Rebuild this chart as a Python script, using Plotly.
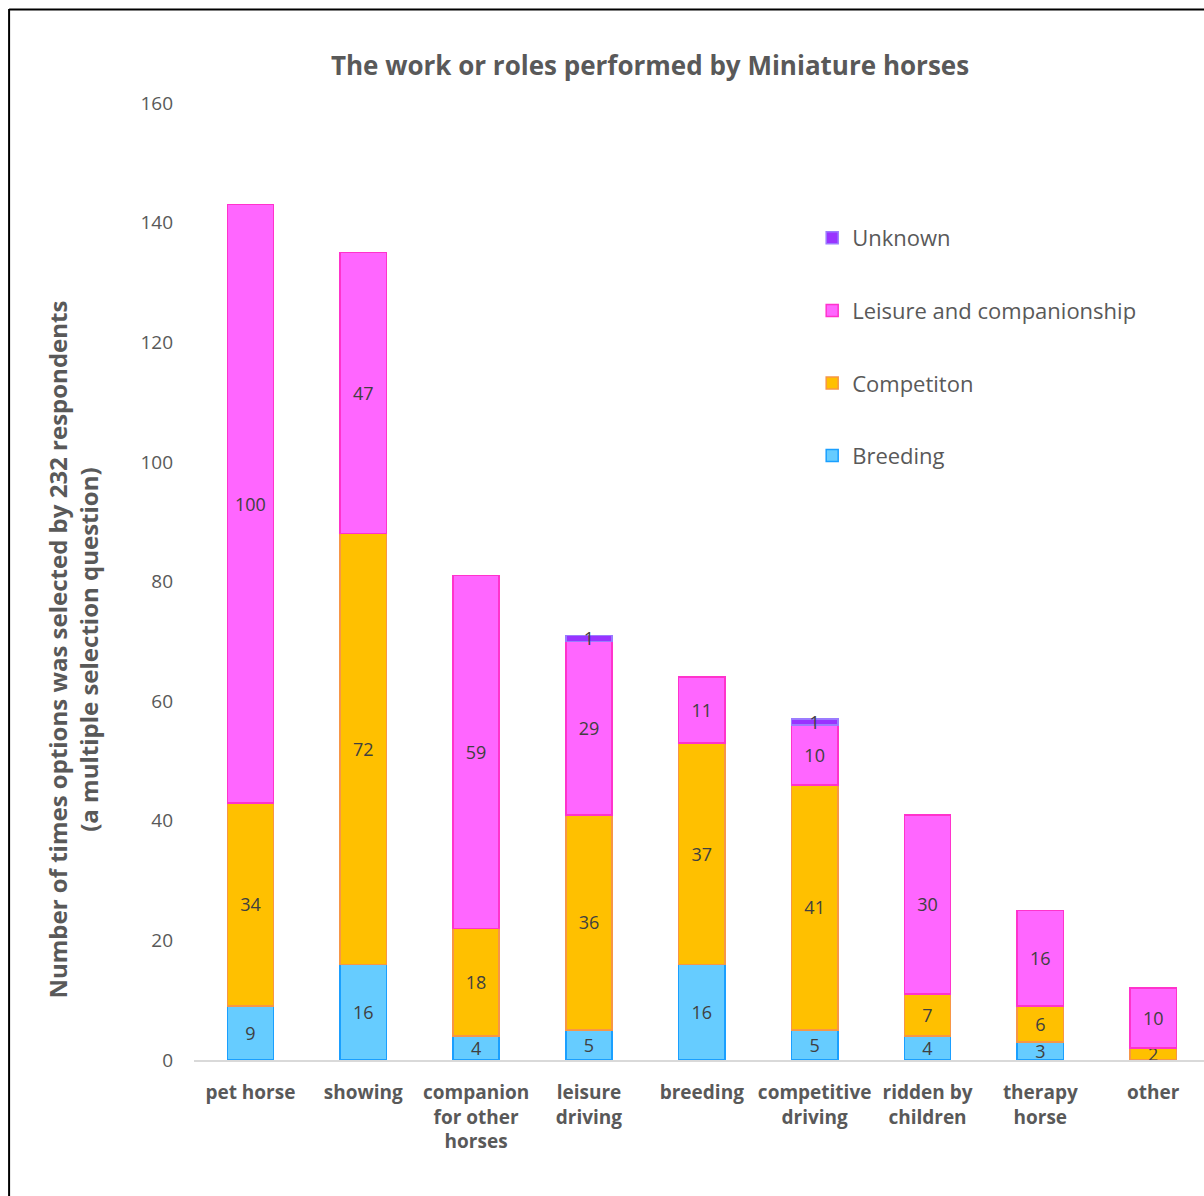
import plotly.graph_objects as go

# Survey results: roles of Miniature horses, split by owner purpose
categories = [
    "pet horse", "showing", "companion<br>for other<br>horses", "leisure<br>driving",
    "breeding", "competitive<br>driving", "ridden by<br>children", "therapy<br>horse", "other",
]
breeding = [9, 16, 4, 5, 16, 5, 4, 3, 0]
competition = [34, 72, 18, 36, 37, 41, 7, 6, 2]
leisure = [100, 47, 59, 29, 11, 10, 30, 16, 10]
unknown = [0, 0, 0, 1, 0, 1, 0, 0, 0]

y_ticks = [0, 20, 40, 60, 80, 100, 120, 140, 160]

# (name, values, fill, outline, legend position)
series = [
    ("Breeding", breeding, "#66CCFF", "#1A9FFF", 4),
    ("Competiton", competition, "#FFC000", "#F79646", 3),
    ("Leisure and companionship", leisure, "#FF66FF", "#FF33CC", 2),
    ("Unknown", unknown, "#9933FF", "#9B7BFF", 1),
]

FONT = "Open Sans"
GREY = "#595959"

fig = go.Figure()
for name, vals, fill, edge, rank in series:
    fig.add_trace(go.Bar(
        x=list(range(len(categories))),
        y=[v if v else None for v in vals],
        name=name,
        legendgroup=name,
        legendrank=rank,
        marker=dict(color=fill, line=dict(color=edge, width=1.5)),
        width=0.41,
        text=[str(v) if v else "" for v in vals],
        textposition="inside",
        insidetextanchor="middle",
        constraintext="none",
        textangle=0,
        textfont=dict(family=FONT, size=18, color="#404040"),
        hoverinfo="skip",
    ))

# plot area spans px 193.5..1204 horizontally and 103..1060 vertically
L, R, T, B = 193.5, 1204.0, 103.0, 1060.0
W, H = R - L, B - T

def px_x(px):
    return (px - L) / W

def px_y(py):
    return (B - py) / H

fig.update_layout(
    width=1204, height=1196,
    margin=dict(l=L, r=1204 - R, t=T, b=1196 - B, pad=0),
    barmode="stack",
    paper_bgcolor="white", plot_bgcolor="white",
    font=dict(family=FONT, color=GREY),
    title=dict(
        text="<b>The work or roles performed by Miniature horses</b>",
        x=650 / 1204, xanchor="center", y=1 - 66 / 1196, yanchor="middle",
        font=dict(family=FONT, size=26, color=GREY),
    ),
    xaxis=dict(
        range=[-0.5, -0.5 + W / 112.9],
        tickmode="array",
        tickvals=list(range(len(categories))),
        ticktext=[f"<b>{c}</b>" for c in categories],
        tickfont=dict(family=FONT, size=19, color=GREY),
        showline=True, linecolor="#D9D9D9", linewidth=2,
        showgrid=False, zeroline=False, ticks="", ticklabelstandoff=14,
    ),
    yaxis=dict(
        range=[0, 160],
        tickvals=y_ticks,
        tickfont=dict(family=FONT, size=19, color=GREY),
        showline=False, showgrid=False, zeroline=False, ticks="",
        ticklabelstandoff=20,
    ),
    legend=dict(
        x=px_x(812), xanchor="left", y=px_y(217), yanchor="top",
        traceorder="grouped", tracegroupgap=41,
        font=dict(family=FONT, size=22, color=GREY),
        bgcolor="rgba(0,0,0,0)",
    ),
    showlegend=True,
)

# axis title, two bold lines rotated
fig.add_annotation(
    xref="paper", yref="paper", x=px_x(72), y=px_y(650),
    text="<b>Number of times options was selected by 232 respondents</b><br><b>(a multiple selection question)</b>",
    textangle=-90, showarrow=False, xanchor="center", yanchor="middle",
    font=dict(family=FONT, size=24, color=GREY),
)

# outer frame (left and top edges)
fig.add_shape(type="line", xref="paper", yref="paper",
              x0=px_x(8.5), x1=px_x(8.5), y0=px_y(9), y1=px_y(1196),
              line=dict(color="black", width=2))
fig.add_shape(type="line", xref="paper", yref="paper",
              x0=px_x(8.5), x1=px_x(1204), y0=px_y(9.5), y1=px_y(9.5),
              line=dict(color="black", width=2))

fig.write_html("out.html")
